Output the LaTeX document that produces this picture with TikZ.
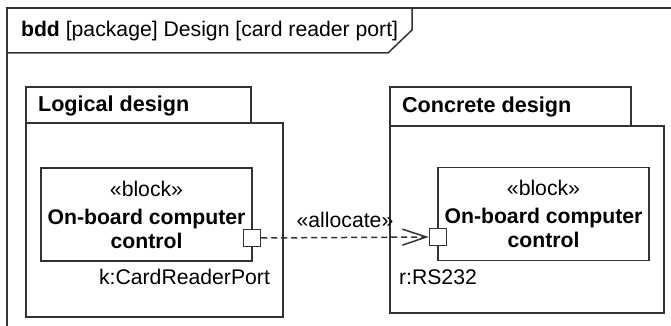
\documentclass[tikz,border=0pt]{standalone}
\usepackage{fontspec}
\setmainfont{Liberation Sans}
\usetikzlibrary{arrows.meta,positioning}

\begin{document}
\begin{tikzpicture}[x=0.5pt, y=-0.5pt, line join=miter, font=\fontsize{10.6}{12}\selectfont,
	umlline/.style={draw=black!80, line width=0.75pt},
	blockbox/.style={umlline, minimum width=105.5pt, minimum height=46.5pt, align=center, inner sep=0pt},
	portbox/.style={umlline, fill=white, minimum size=8.5pt, inner sep=0pt},
	tabtext/.style={anchor=west, font=\fontsize{10.8}{12}\selectfont\bfseries}]
	\useasboundingbox (0,0) rectangle (671,326);

	% Diagram frame
	\draw[umlline] (7,326) -- (7,8) -- (671,8);
	\draw[umlline] (7,53) -- (388,53) -- (412,30) -- (412,8);
	\node[anchor=west] (title) at (14,31) {\textbf{bdd} [package] Design [card reader port]};

	% Packages (tab + body)
	\draw[umlline] (26,123) rectangle (251,87);
	\draw[umlline] (26,123) rectangle (283,317);
	\node[tabtext] (logtitle) at (31,106) {Logical design};
	\draw[umlline] (390,126) rectangle (631,87);
	\draw[umlline] (390,126) rectangle (664,313);
	\node[tabtext] (contitle) at (395,107) {Concrete design};

	% Blocks
	\node[blockbox] (logblock) at (146.5,214.5) {\guillemotleft block\guillemotright\\[2pt]\textbf{On-board computer}\\\textbf{control}};
	\node[blockbox] (conblock) at (543.5,214) {\guillemotleft block\guillemotright\\[2pt]\textbf{On-board computer}\\\textbf{control}};

	% Ports
	\node[portbox] (kport) at (252,238) {};
	\node[portbox] (rport) at (438,237) {};
	\node[anchor=east] (kname) at (277,277) {k:CardReaderPort};
	\node[anchor=west] (rname) at (392,277) {r:RS232};

	% Allocation
	\draw[umlline, dash pattern=on 3pt off 2pt, -{Straight Barb[length=12pt, width=8pt]}] (kport.east) -- (rport.west)
		node[midway, above=1pt] (alloc) {\guillemotleft allocate\guillemotright};
\end{tikzpicture}
\end{document}
